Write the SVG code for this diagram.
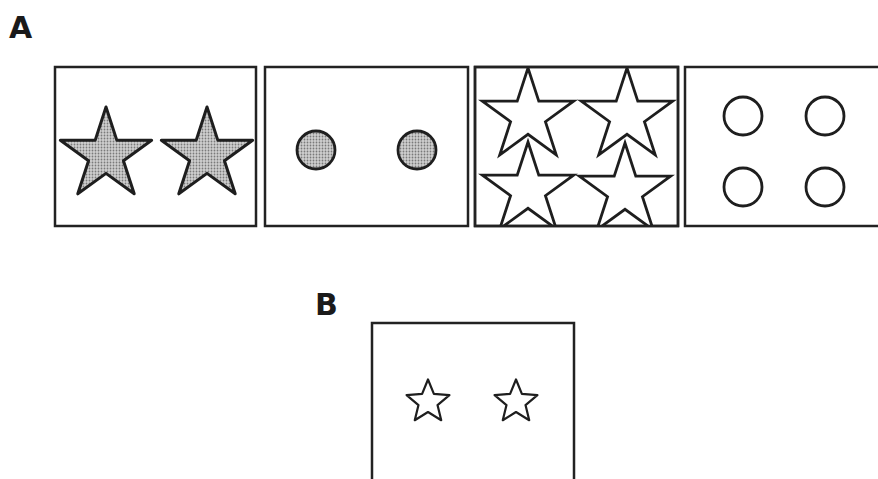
<svg xmlns="http://www.w3.org/2000/svg" width="878" height="479" viewBox="0 0 878 479">
  <style>
    .box { fill: #ffffff; stroke: #222222; stroke-width: 2.5; }
    .label { font-family: "DejaVu Sans", "Liberation Sans", sans-serif; font-weight: bold; font-size: 30px; fill: #1a1a1a; }
    .gstar { fill: url(#stipple); stroke: #1e1e1e; stroke-width: 3; stroke-linejoin: round; }
    .wstar { fill: #ffffff; stroke: #1e1e1e; stroke-width: 2.8; stroke-linejoin: miter; }
    .gdot { fill: url(#stipple); stroke: #1e1e1e; stroke-width: 2.8; }
    .ring { fill: #ffffff; stroke: #1e1e1e; stroke-width: 2.8; }
    .sstar { fill: #ffffff; stroke: #1e1e1e; stroke-width: 2.2; stroke-linejoin: round; }
  </style>
  <defs>
    <pattern id="stipple" width="3" height="3" patternUnits="userSpaceOnUse">
      <rect width="3" height="3" fill="#cfcfcf"/>
      <circle cx="1.5" cy="1.5" r="0.9" fill="#7a7a7a"/>
    </pattern>
    <path id="star" d="M0,-48 L10.78,-14.84 L45.65,-14.83 L17.44,5.67 L28.21,38.83 L0,18.34 L-28.21,38.83 L-17.44,5.67 L-45.65,-14.83 L-10.78,-14.84 Z"/>
    <path id="smallstar" d="M0,-22.5 L5.88,-8.09 L21.4,-6.95 L9.51,3.09 L13.23,18.2 L0,10 L-13.23,18.2 L-9.51,3.09 L-21.4,-6.95 L-5.88,-8.09 Z"/>
    <clipPath id="clip3">
      <rect x="476" y="68" width="201" height="157"/>
    </clipPath>
  </defs>

  <g id="label-A"><text class="label" x="9" y="38">A</text></g>
  <g id="label-B"><text class="label" x="315" y="315">B</text></g>

  <g id="panel-1">
    <rect class="box" x="55" y="67" width="201" height="159"/>
    <use href="#star" class="gstar" x="106" y="155"/>
    <use href="#star" class="gstar" x="207" y="155"/>
  </g>

  <g id="panel-2">
    <rect class="box" x="265" y="67" width="203" height="159"/>
    <circle class="gdot" cx="316" cy="150" r="19"/>
    <circle class="gdot" cx="417" cy="150" r="19"/>
  </g>

  <g id="panel-3">
    <rect class="box" x="475" y="67" width="203" height="159"/>
    <g clip-path="url(#clip3)">
      <use href="#star" class="wstar" x="528" y="116"/>
      <use href="#star" class="wstar" x="627" y="116"/>
      <use href="#star" class="wstar" x="528" y="190"/>
      <use href="#star" class="wstar" x="625" y="191"/>
    </g>
    <rect x="475" y="67" width="203" height="159" fill="none" stroke="#222222" stroke-width="2.5"/>
  </g>

  <g id="panel-4">
    <rect class="box" x="685" y="67" width="210" height="159"/>
    <circle class="ring" cx="743" cy="116" r="19"/>
    <circle class="ring" cx="825" cy="116" r="19"/>
    <circle class="ring" cx="743" cy="187" r="19"/>
    <circle class="ring" cx="825" cy="187" r="19"/>
  </g>

  <g id="panel-B">
    <rect class="box" x="372" y="323" width="202" height="180"/>
    <use href="#smallstar" class="sstar" x="428" y="402"/>
    <use href="#smallstar" class="sstar" x="516" y="402"/>
  </g>

  <g id="connectors"></g>
</svg>
